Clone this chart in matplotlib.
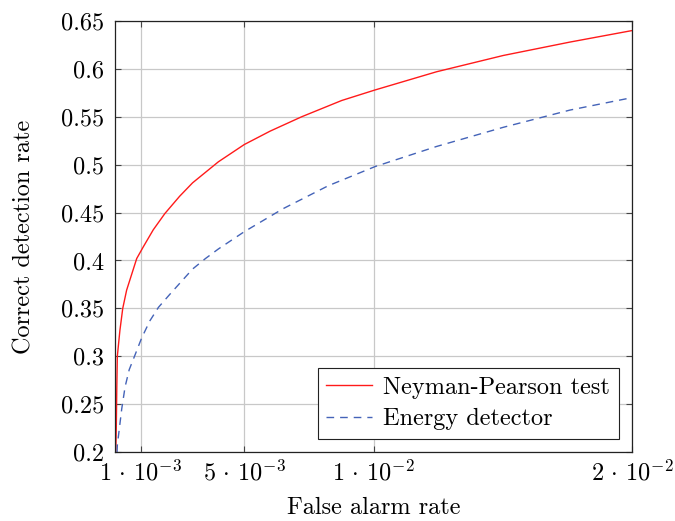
import matplotlib
matplotlib.use("Agg")
import matplotlib.pyplot as plt

plt.rcParams['font.family'] = ['cmr10', 'DejaVu Serif']
plt.rcParams['mathtext.fontset'] = 'cm'
plt.rcParams['axes.unicode_minus'] = False
plt.rcParams['axes.formatter.use_mathtext'] = True

# Data
np_x = [0.00003, 0.00005, 0.00007, 0.00009, 0.00019, 0.00030, 0.00045, 0.00058,
        0.00071, 0.00084, 0.00109, 0.00148, 0.00193, 0.0025, 0.0030, 0.0040,
        0.0050, 0.0060, 0.00722, 0.00877, 0.01006, 0.01244, 0.01502, 0.0176, 0.02]
np_y = [0.200, 0.226, 0.268, 0.300, 0.327, 0.350, 0.369, 0.380,
        0.391, 0.402, 0.414, 0.432, 0.449, 0.467, 0.481, 0.503,
        0.521, 0.535, 0.550, 0.567, 0.578, 0.597, 0.614, 0.628, 0.640]

en_x = [0.00008, 0.00009, 0.00026, 0.00039, 0.00055, 0.00077, 0.00103, 0.00135,
        0.00168, 0.0021, 0.0025, 0.0030, 0.0035, 0.0040, 0.0050, 0.0065, 0.00825,
        0.01006, 0.01244, 0.01502, 0.0176, 0.02]
en_y = [0.200, 0.207, 0.245, 0.268, 0.286, 0.301, 0.319, 0.337,
        0.351, 0.364, 0.376, 0.391, 0.402, 0.412, 0.430, 0.454, 0.478,
        0.498, 0.519, 0.539, 0.557, 0.570]

xticks = [0.001, 0.005, 0.01, 0.02]
xticklabels = [r'$1\,\cdot\,10^{-3}$', r'$5\,\cdot\,10^{-3}$',
               r'$1\,\cdot\,10^{-2}$', r'$2\,\cdot\,10^{-2}$']
yticks = [0.2, 0.25, 0.3, 0.35, 0.4, 0.45, 0.5, 0.55, 0.6, 0.65]
yticklabels = ['0.2', '0.25', '0.3', '0.35', '0.4', '0.45', '0.5', '0.55', '0.6', '0.65']

FS = 17.5

fig = plt.figure(figsize=(6.75, 5.21), dpi=100)
ax = fig.add_axes([115/675, 1-452/521, (632-115)/675, (452-21)/521])

ax.plot(np_x, np_y, color='#ff1a1a', lw=1.0, label='Neyman-Pearson test')
ax.plot(en_x, en_y, color='#4463b8', lw=1.0, linestyle=(0, (5.5, 4.3)), label='Energy detector')

ax.set_xlim(0, 0.02)
ax.set_ylim(0.2, 0.65)
ax.set_xticks(xticks)
ax.set_xticklabels(xticklabels)
ax.set_yticks(yticks)
ax.set_yticklabels(yticklabels)
ax.tick_params(direction='in', length=4, width=0.8, color='#444444', labelsize=FS,
               top=True, right=True)
ax.tick_params(axis='y', pad=8)
ax.tick_params(axis='x', pad=6)
ax.grid(True, color='#c8c8c8', lw=0.9)
ax.set_axisbelow(True)
for s in ax.spines.values():
    s.set_color('#222222')
    s.set_linewidth(0.9)

ax.set_xlabel('False alarm rate', fontsize=FS, labelpad=8)
ax.set_ylabel('Correct detection rate', fontsize=FS, labelpad=18)

leg = ax.legend(loc='lower right', fontsize=FS, frameon=True, fancybox=False,
                edgecolor='#222222', framealpha=1, handlelength=1.9,
                borderaxespad=0.55, borderpad=0.35, labelspacing=0.38, handletextpad=0.45)
leg.get_frame().set_linewidth(0.8)

fig.savefig('out.png', dpi=100)
